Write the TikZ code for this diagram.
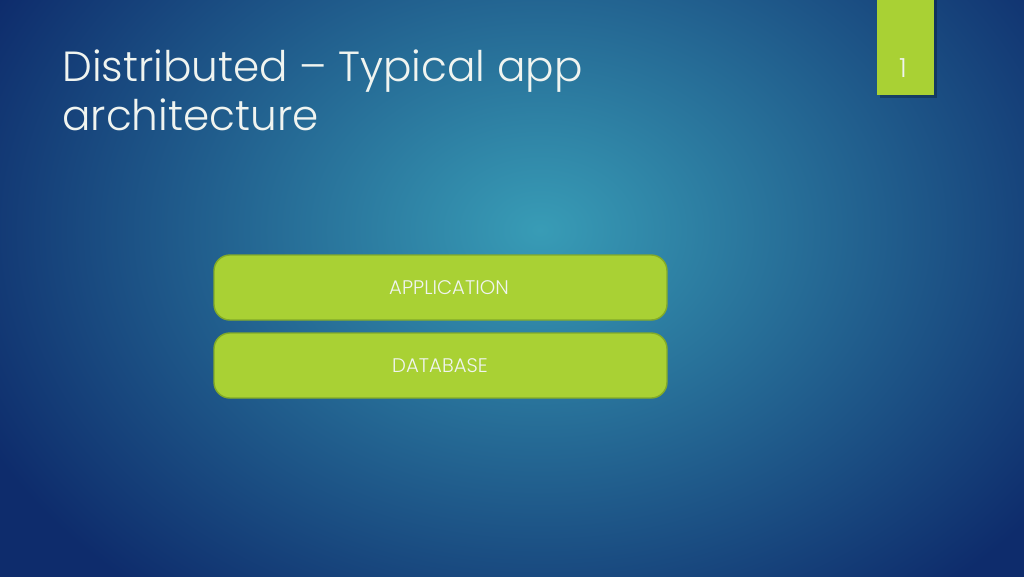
\documentclass[tikz,border=0pt]{standalone}
\usepackage{fontspec}
\setmainfont{Poppins}[UprightFont=* Light]
\definecolor{bgin}{RGB}{56,156,182}
\definecolor{bgout}{RGB}{14,44,108}
\definecolor{lime}{RGB}{169,209,52}
\definecolor{limeedge}{RGB}{130,170,40}
\definecolor{txt}{RGB}{240,244,240}
\tikzset{
  layer/.style={draw=limeedge, line width=0.8pt, fill=lime, rounded corners=9pt,
    minimum width=453*0.02cm, minimum height=65*0.02cm, inner sep=0},
  layertext/.style={text=txt, font=\fontsize{11.2}{13}\selectfont},
}
\begin{document}
\begin{tikzpicture}[x=0.02cm,y=-0.02cm]
\useasboundingbox (0,0) rectangle (1024,576);
\begin{scope}
\clip (0,0) rectangle (1024,576);
\fill[bgout] (0,0) rectangle (1024,576);
\shade[inner color=bgin, outer color=bgout] (540-620,230-470) rectangle (540+620,230+470);
\end{scope}
% page tab
\fill[black, opacity=0.25] (880,0) rectangle (937,98);
\node[fill=lime, minimum width=57*0.02cm, minimum height=95*0.02cm, inner sep=0, anchor=north west] (tab) at (877,0) {};
\node[text=txt, font=\fontsize{15}{17}\selectfont] (num) at (903,68) {1};
% title
\node[anchor=north west, align=left, text=txt, inner sep=0,
  font=\fontsize{24}{28.4}\selectfont] (title) at (62,49)
  {Distributed -- Typical app\\architecture};
% layers
\node[layer] (app) at (440.5,287.5) {};
\node[layer] (db) at (440.5,365.5) {};
\node[layertext] (apptext) at (449,288) {APPLICATION};
\node[layertext] (dbtext) at (440,366) {DATABASE};
\end{tikzpicture}
\end{document}
